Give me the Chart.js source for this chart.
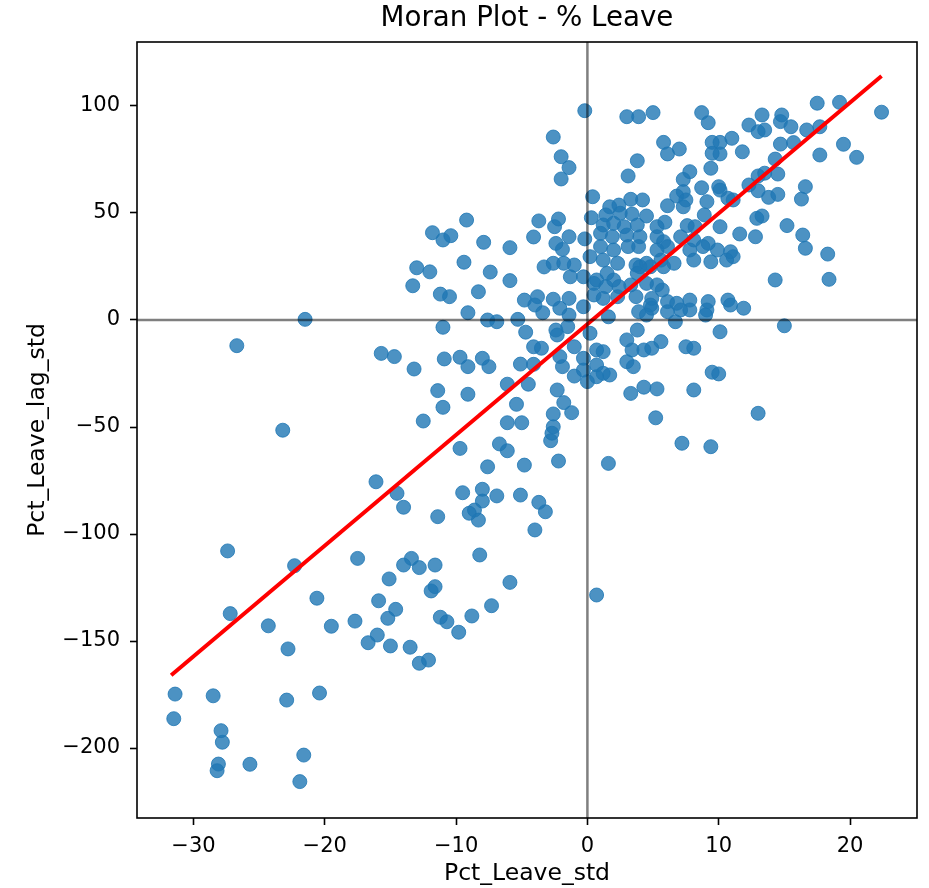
<!DOCTYPE html>
<html>
<head>
<meta charset="utf-8">
<title>Moran Plot - % Leave</title>
<script src="https://cdn.jsdelivr.net/npm/chart.js@4.4.1/dist/chart.umd.min.js"></script>
<style>
  html, body { margin: 0; padding: 0; background: #fff; }
  #wrap { width: 929px; height: 888px; }
</style>
</head>
<body>
<div id="wrap"><canvas id="moranChart" width="929" height="888"></canvas></div>
<script>
// standardised % leave (x) and its spatial lag (y)
const pctLeaveStd = [
  -21.5, -26.7, -15.7, -14.7, -13.2, -12.5, -23.2, -13.0, -13.3, -11.8, -12.0,
  -16.1, -14.5, -14.0, -27.4, -22.3, -17.5, -14.0, -13.4, -12.8, -15.1, -20.6,
  -15.9, -14.6, -15.2, -27.2, -24.3, -19.5, -17.7, -16.0, -16.7, -15.0, -13.5,
  -22.8, -12.8, -12.1, -31.4, -28.5, -22.9, -20.4, -31.5, -27.9, -27.8, -21.6,
  -28.1, -28.2, -25.7, -21.9,
  -9.7, -6.7, -6.1, -2.8, -7.6, -4.8, -2.2, 1.6, -9.5, -8.0, -6.9, -5.1, -8.0,
  -8.6, -9.0, -8.3, -3.7, -3.2, -11.4, -4.0, -8.2, -11.6, -5.9, -11.6, -11.9,
  0.7, -7.3, -8.8, -11.2, -10.7, -9.8,
  -5.9, -11.2, -10.5, -8.3, -4.8, -3.8, -4.0, -3.4, -2.6, -2.1, -1.4, -1.4,
  -0.3, 0.5, -9.1, -7.6, -6.9, -5.3, -11.0, -4.7, -2.4, -2.3, -1.5, 0.2, -4.1,
  -3.5, -2.1, -1.9, -1.0, -0.3, 0.7, -10.9, -9.7, -9.1, -8.0, -7.5, -5.1, -4.1,
  -1.0, -0.3, 0.0, 0.7, -6.1, -4.5, -11.4, -9.1, -2.3, -11.0, -5.4, -1.8, -1.2,
  -2.6, -6.1, -5.0, -2.6, -2.7,
  -0.2, -2.6, -2.0, -1.4, -2.0, 0.4, 0.3, -9.2, -3.7, -2.2, -2.5, -11.0, -10.4,
  -7.9, -5.9, -4.1, -1.4, -2.4, -1.9, -0.2, -9.4, -7.4, -3.3, -2.6, -1.8, -1.0,
  0.2,
  3.0, 3.9, 5.0, 8.7, 9.2, 12.3, 13.0, 13.3, 13.5, 14.8, 14.7, 15.5, 16.7, 17.7,
  17.5, 19.2, 22.4, 5.8, 6.1, 7.0, 9.5, 10.1, 11.0, 9.5, 10.1, 11.8, 3.8, 3.1,
  9.4, 7.8, 7.3, 8.7, 10.0, 10.1, 7.3, 6.8, 7.5, 9.1, 10.7, 11.1, 12.3, 13.0,
  3.3, 4.2, 6.1, 7.3, 1.7, 2.4, 1.4, 2.5, 3.4, 4.5, 8.9, 5.9, 5.3, 7.6, 8.2,
  10.1, 12.9, 1.2, 2.0, 2.8, 3.8, 11.6, 12.8, 1.0, 1.9, 3.0, 4.0, 5.3, 5.8, 7.1,
  8.1, 9.2, 1.0, 2.0, 3.1, 3.9, 5.3, 6.1, 7.8, 8.8, 9.9, 10.9, 1.2, 2.3, 3.7,
  4.5, 5.6, 6.6, 8.1, 9.4, 10.6, 11.1, 4.0, 4.8, 5.8, -1.3, 1.5, 2.4,
  -0.3, 0.7, 1.4, 2.0, 0.5, 1.2, 2.3, 3.3, 3.7, 3.8, 4.5, 5.3, 5.7, 4.9, 4.8,
  1.6, 3.9, 4.5, 4.9, 6.1, 6.8, 7.8, 7.8, 6.1, 7.1, 9.2, 9.1, 9.0, 10.7, 10.9,
  11.9, 6.7, 10.1, 3.8, 3.0, 5.6, 4.9, 4.3, 3.4, 7.5, 8.1, 1.2, 3.0, 3.5, 0.7,
  1.2, 1.7, 9.5, 10.0, 4.3, 5.3, 3.3, 8.1, 5.2, 13.0, 7.2, 9.4,
  19.5, 20.5, 14.7, 15.7, 17.7, 14.3, 13.5, 14.5, 13.0, 13.8, 14.5, 16.6, 16.3,
  13.3, 15.2, 16.4, 16.6, 18.3, 14.3, 18.4, 15.0
];
const pctLeaveLagStd = [
  0.3, -12.0, -15.6, -17.1, -22.9, -47.2, -51.5, 24.4, 16.0, 40.8, 22.5,
  -75.6, -81.0, -87.5, -107.9, -114.8, -111.4, -114.5, -111.4, -115.7, -121.0, -130.0,
  -131.2, -135.2, -139.4, -137.2, -142.9, -143.1, -140.7, -147.2, -150.8, -152.3, -152.9,
  -153.7, -160.4, -158.9, -174.8, -175.6, -177.6, -174.3, -186.3, -191.9, -197.3, -203.3,
  -207.5, -210.6, -207.6, -215.7,
  -60.0, -57.9, -61.1, -56.4, -68.6, -67.8, -65.9, -67.0, -80.7, -79.1, -82.2, -81.8, -84.6,
  -88.8, -90.3, -93.5, -85.2, -89.6, -91.9, -98.1, -109.8, -114.5, -122.6, -124.6, -126.6,
  -128.5, -133.5, -138.3, -138.9, -141.0, -145.9,
  18.4, 12.1, 10.9, 13.2, 9.3, 10.9, 7.0, 3.4, 9.7, 5.5, 10.1, 2.3,
  6.2, 17.1, 3.4, 0.0, -0.8, 0.3, -3.4, -5.7, -4.7, -7.0, -3.1, -6.2, -12.5,
  -13.2, -17.1, -21.8, -12.5, -17.9, -14.0, -18.2, -17.4, -21.8, -17.9, -21.8, -20.6, -20.7,
  -26.2, -23.4, -28.8, -26.5, -30.0, -30.0, -33.0, -34.7, -32.7, -40.8, -39.4, -38.6, -43.3,
  -43.9, -48.0, -48.0, -49.9, -52.9,
  97.8, 85.5, 76.3, 71.2, 65.9, 57.6, 47.8, 46.7, 46.3, 47.2, 43.6, 37.4, 39.4,
  36.3, 33.8, 38.8, 38.9, 35.8, 33.0, 37.9, 27.0, 22.4, 24.8, 26.5, 26.5, 25.7,
  29.6,
  95.0, 95.0, 96.9, 96.9, 92.2, 91.1, 88.0, 95.8, 88.8, 95.8, 92.7, 90.3, 88.8, 90.3,
  101.3, 101.7, 97.1, 83.0, 77.6, 79.9, 83.0, 83.0, 84.9, 77.9, 77.6, 78.6, 74.4, 67.3,
  70.9, 69.3, 65.7, 61.8, 62.3, 60.7, 60.0, 57.9, 56.1, 55.3, 56.9, 56.1, 63.1, 67.3,
  56.4, 56.1, 53.4, 52.9, 52.9, 53.7, 49.1, 49.9, 49.5, 48.6, 49.1, 45.7, 43.6, 44.1, 43.6,
  43.6, 47.5, 44.4, 45.2, 43.6, 44.4, 40.2, 38.9, 40.5, 38.9, 39.7, 38.9, 38.9, 36.6, 38.9,
  37.4, 35.8, 34.3, 32.7, 34.3, 34.3, 32.7, 34.3, 32.7, 34.3, 32.7, 31.9, 28.0, 26.5, 25.7,
  26.5, 28.0, 26.5, 28.0, 27.2, 28.0, 29.6, 24.9, 24.9, 24.9, 20.2, 21.8, 15.6,
  20.2, 18.7, 15.6, 18.7, 11.7, 10.1, 10.9, 16.4, 10.9, 21.8, 17.1, 16.4, 14.0, 10.1, 7.0,
  1.5, 3.9, 2.3, 5.5, 8.6, 7.8, 9.3, 4.7, 3.9, 4.7, 8.6, 4.7, 2.3, 9.3, 7.0,
  5.5, -0.8, -5.5, -4.7, -9.3, -10.1, -13.2, -14.0, -14.0, -12.5, -13.2, -14.8, -19.5, -21.8, -21.0,
  -24.9, -25.7, -24.4, -25.2, -31.4, -32.2, -34.3, -32.7, -45.7, -43.6, -57.6, -59.2,
  82.1, 76.0, 82.2, 82.9, 77.1, 75.2, 68.6, 68.2, 60.4, 57.3, 58.7, 62.3, 56.5,
  48.6, 44.1, 39.7, 33.5, 30.8, 18.7, 19.0, -2.7
];

// fitted regression line, ends at the data extent
const fitX = [-31.7, 22.4];
const fitY = [-166, 114];

const xTicks = [-30, -20, -10, 0, 10, 20];
const yTicks = [-200, -150, -100, -50, 0, 50, 100];
const xRange = [-34.3, 25.1];
const yRange = [-232.7, 129.9];

const FONT = "'DejaVu Sans', 'Liberation Sans', sans-serif";
const pointColor = "rgba(31,119,180,0.8)";
const refColor = "rgba(0,0,0,0.5)";

function minusLabel(v) {
  return String(v).replace("-", "\u2212");
}

// box around the plot area, like matplotlib spines
const framePlugin = {
  id: "frame",
  afterDatasetsDraw(chart) {
    const { ctx, chartArea } = chart;
    ctx.save();
    ctx.strokeStyle = "#000";
    ctx.lineWidth = 1.6;
    ctx.strokeRect(chartArea.left, chartArea.top,
      chartArea.right - chartArea.left, chartArea.bottom - chartArea.top);
    ctx.restore();
  },
};

const scatterData = pctLeaveStd.map((x, i) => ({ x, y: pctLeaveLagStd[i] }));
const fitData = fitX.map((x, i) => ({ x, y: fitY[i] }));

new Chart(document.getElementById("moranChart"), {
  type: "scatter",
  data: {
    datasets: [
      {
        // vertical line at x = 0
        data: [{ x: 0, y: yRange[0] }, { x: 0, y: yRange[1] }],
        showLine: true,
        borderColor: refColor,
        borderWidth: 2.5,
        pointRadius: 0,
        order: 0,
      },
      {
        // horizontal line at y = 0
        data: [{ x: xRange[0], y: 0 }, { x: xRange[1], y: 0 }],
        showLine: true,
        borderColor: refColor,
        borderWidth: 2.5,
        pointRadius: 0,
        order: 0,
      },
      {
        data: fitData,
        showLine: true,
        borderColor: "#ff0000",
        borderWidth: 4,
        pointRadius: 0,
        order: 1,
      },
      {
        data: scatterData,
        pointRadius: 7,
        pointBorderWidth: 1,
        pointBackgroundColor: pointColor,
        pointBorderColor: pointColor,
        order: 2,
      },
    ],
  },
  options: {
    responsive: false,
    animation: false,
    devicePixelRatio: 1,
    layout: { padding: { left: 0, right: 12, top: 0, bottom: 0 } },
    plugins: {
      legend: { display: false },
      tooltip: { enabled: false },
      title: {
        display: true,
        text: "Moran Plot - % Leave",
        color: "#000",
        fullSize: false,
        font: { family: FONT, size: 27.7, weight: "normal" },
        padding: { top: 2.5, bottom: 6.26 },
      },
    },
    scales: {
      x: {
        type: "linear",
        min: xRange[0],
        max: xRange[1],
        afterBuildTicks: (axis) => { axis.ticks = xTicks.map((v) => ({ value: v })); },
        afterFit: (axis) => { axis.height = 70; },
        grid: { drawOnChartArea: false, tickLength: 7, tickWidth: 1.6, tickColor: "#000" },
        border: { display: false },
        ticks: {
          color: "#000",
          padding: 9,
          maxRotation: 0,
          font: { family: FONT, size: 21 },
          callback: minusLabel,
        },
        title: {
          display: true,
          text: "Pct_Leave_std",
          color: "#000",
          font: { family: FONT, size: 23.5 },
          padding: { top: 0, bottom: 0 },
        },
      },
      y: {
        type: "linear",
        min: yRange[0],
        max: yRange[1],
        afterBuildTicks: (axis) => { axis.ticks = yTicks.map((v) => ({ value: v })); },
        afterFit: (axis) => { axis.width = 137; },
        grid: { drawOnChartArea: false, tickLength: 7, tickWidth: 1.6, tickColor: "#000" },
        border: { display: false },
        ticks: {
          color: "#000",
          padding: 10,
          font: { family: FONT, size: 21 },
          callback: minusLabel,
        },
        title: {
          display: true,
          text: "Pct_Leave_lag_std",
          color: "#000",
          font: { family: FONT, size: 23.5 },
          padding: { top: 24, bottom: 0 },
        },
      },
    },
  },
  plugins: [framePlugin],
});
</script>
</body>
</html>
